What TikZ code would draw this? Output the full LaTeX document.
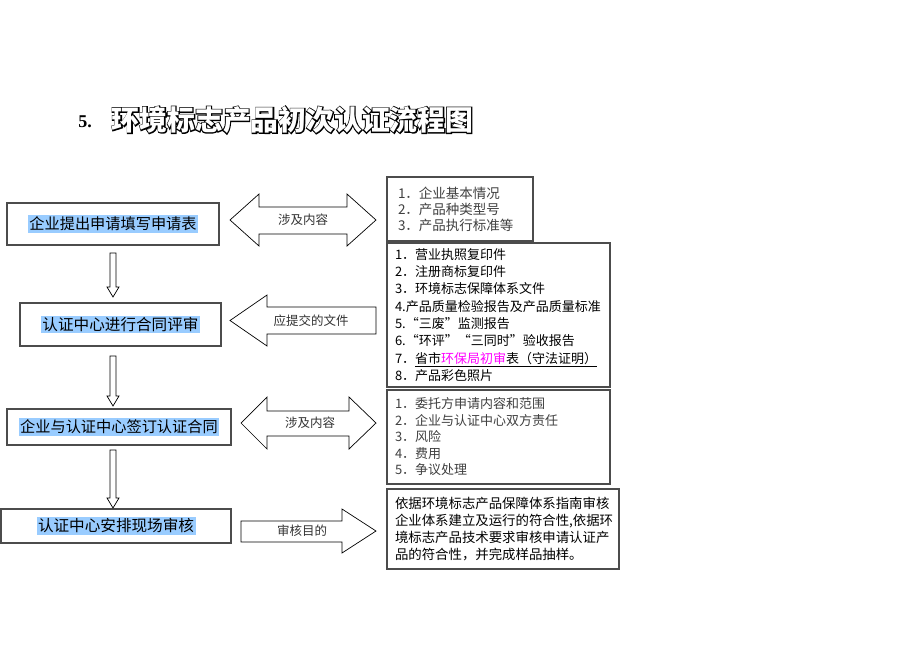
\documentclass[tikz,border=0pt]{standalone}
\usepackage{fontspec}
\setmainfont{Noto Sans CJK SC}
\newfontfamily\titlelat{Liberation Serif}
\newfontfamily\titlecjk{Noto Sans CJK SC}
\usetikzlibrary{calc}
\definecolor{hlblue}{RGB}{153,204,255}
\definecolor{mag}{RGB}{255,0,255}
\tikzset{
  mainbox/.style={draw=black!70, line width=1.1pt, fill=white, inner sep=0pt, rectangle},
  infobox/.style={draw=black!70, line width=1.1pt, fill=white, rectangle, align=left, inner ysep=0pt},
  blockarrow/.style={draw=black, line width=0.7pt, fill=white, line join=miter},
  arrowlabel/.style={font=\fontsize{12.5}{14}\selectfont, text=black!80, inner sep=0pt},
}
\newcommand{\hlt}[1]{{\setlength{\fboxsep}{1.5pt}\colorbox{hlblue}{#1}}}
\newcommand{\blockdown}[3]{%
  \draw[blockarrow] (#1-3,#2) -- (#1+3,#2) -- (#1+3,#3-10) -- (#1+6,#3-10) -- (#1,#3) -- (#1-6,#3-10) -- (#1-3,#3-10) -- cycle;}
\begin{document}
\begin{tikzpicture}[x=1pt,y=-1pt]
\useasboundingbox[fill=white] (0,0) rectangle (920,651);

% title
\node[inner sep=0pt] (t5) at (85,122) {\titlelat\bfseries\fontsize{18}{20}\selectfont 5.};
\node[inner sep=0pt, text=black] (titleout) at (292.5,120)
  {\titlecjk\addfontfeature{FakeBold=7}\bfseries\fontsize{27.8}{30}\selectfont 环境标志产品初次认证流程图};
\node[inner sep=0pt, text=white] (title) at (titleout.center)
  {\titlecjk\bfseries\fontsize{27.8}{30}\selectfont 环境标志产品初次认证流程图};

% main boxes
\node[mainbox, minimum width=212pt, minimum height=42pt] (b1) at (113,224)
  {\fontsize{15.2}{17}\selectfont\hlt{企业提出申请填写申请表}};
\node[mainbox, minimum width=201pt, minimum height=43pt] (b2) at (120.5,324.5)
  {\fontsize{15.6}{18}\selectfont\hlt{认证中心进行合同评审}};
\node[mainbox, minimum width=224pt, minimum height=36pt] (b3) at (119,427)
  {\raisebox{-3pt}{\fontsize{15.2}{17}\selectfont\hlt{企业与认证中心签订认证合同}}};
\node[mainbox, minimum width=230pt, minimum height=34pt] (b4) at (116,526)
  {\raisebox{-4pt}{\fontsize{15.6}{18}\selectfont\hlt{认证中心安排现场审核}}};

% down arrows
\blockdown{113}{253}{297}
\blockdown{113}{356}{406}
\blockdown{113}{450}{508}

% block arrows with labels
\draw[blockarrow] (230,220) -- (259,194) -- (259,207) -- (347,207) -- (347,194) -- (376,220)
  -- (347,246) -- (347,234) -- (259,234) -- (259,246) -- cycle;
\node[arrowlabel] (l1) at (303,220) {涉及内容};

\draw[blockarrow] (230,320.5) -- (267,295) -- (267,307) -- (376,307) -- (376,334) -- (267,334)
  -- (267,346) -- cycle;
\node[arrowlabel] (l2) at (311,320.5) {应提交的文件};

\draw[blockarrow] (241,423) -- (267,397) -- (267,411) -- (349,411) -- (349,397) -- (376,423)
  -- (349,449) -- (349,436) -- (267,436) -- (267,449) -- cycle;
\node[arrowlabel] (l3) at (310,423) {涉及内容};

\draw[blockarrow] (241,521) -- (342,521) -- (342,509) -- (376,531) -- (342,553) -- (342,542)
  -- (241,542) -- cycle;
\node[arrowlabel] (l4) at (302,531) {审核目的};

% info boxes
\node[infobox, minimum width=146pt, minimum height=64pt, inner xsep=11pt, text width=124pt,
  text=black!75, font=\fontsize{13.5}{16}\selectfont] (i1) at (460,209)
  {1．企业基本情况\\2．产品种类型号\\3．产品执行标准等};
\node[infobox, minimum width=223pt, minimum height=144pt, inner xsep=8pt, text width=207pt,
  font=\fontsize{13}{17.3}\selectfont] (i2) at (498.5,315)
  {1．营业执照复印件\\2．注册商标复印件\\3．环境标志保障体系文件\\4.产品质量检验报告及产品质量标准\\5.“三废”监测报告\\6.“环评”“三同时”验收报告\\7．\underline{省市\textcolor{mag}{环保局初审}表（守法证明）}\\8．产品彩色照片};
\node[infobox, minimum width=223pt, minimum height=94pt, inner xsep=8pt, text width=207pt,
  text=black!75, font=\fontsize{13}{16.5}\selectfont] (i3) at (498.5,437)
  {1．委托方申请内容和范围\\2．企业与认证中心双方责任\\3．风险\\4．费用\\5．争议处理};
\node[infobox, minimum width=232pt, minimum height=80pt, inner xsep=8pt, text width=216pt,
  font=\fontsize{13.4}{17}\selectfont] (i4) at (503,529)
  {依据环境标志产品保障体系指南审核\\企业体系建立及运行的符合性,依据环\\境标志产品技术要求审核申请认证产\\品的符合性，并完成样品抽样。};
\end{tikzpicture}
\end{document}
